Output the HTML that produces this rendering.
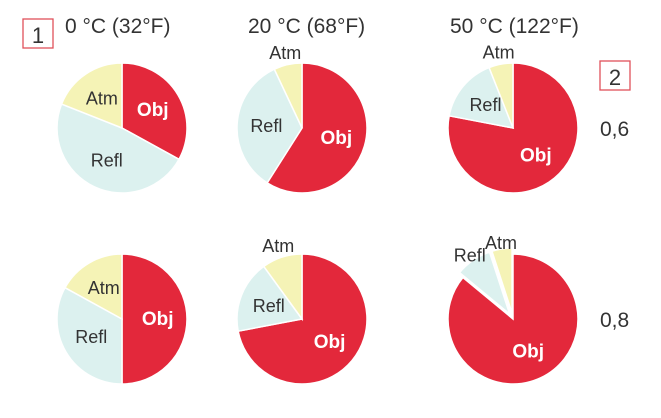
<!DOCTYPE html>
<html><head><meta charset="utf-8"><style>
body{margin:0;background:#fff;}
svg{display:block;font-family:"Liberation Sans",sans-serif;}
</style></head><body>
<svg id="chart" width="661" height="418" viewBox="0 0 661 418">
<rect x="23" y="19" width="30" height="29" fill="none" stroke="#e0505a" stroke-width="1.3"/>
<text x="38" y="43" font-size="22" fill="#333" text-anchor="middle">1</text>
<rect x="600" y="61" width="30" height="29" fill="none" stroke="#e0505a" stroke-width="1.3"/>
<text x="615" y="85" font-size="22" fill="#333" text-anchor="middle">2</text>
<g id="pies"></g>
</svg>
<script>
const temps = ["0 °C (32°F)", "20 °C (68°F)", "50 °C (122°F)"];
const emissivities = ["0,6", "0,8"];
const objShare = [33, 59, 78, 50, 72, 86];
const reflShare = [48, 34, 16, 33, 18, 9];
const atmShare = [19, 7, 6, 17, 10, 5];
const colX = [122, 302, 513];
const rowY = [128, 319];
const headerX = [65, 248, 450];
const colors = {obj:"#e3283b", refl:"#dcf1ef", atm:"#f5f3b6"};
const ns = "http://www.w3.org/2000/svg";
const g = document.getElementById("pies");
function mk(tag, attrs){const e=document.createElementNS(ns,tag);for(const k in attrs)e.setAttribute(k,attrs[k]);return e;}
function pt(cx,cy,r,a){const t=a*Math.PI/180;return [cx+r*Math.sin(t),cy-r*Math.cos(t)];}
function arc(cx,cy,r,a0,a1){const p0=pt(cx,cy,r,a0),p1=pt(cx,cy,r,a1);const large=(a1-a0)>180?1:0;return `M${cx},${cy}L${p0[0]},${p0[1]}A${r},${r} 0 ${large} 1 ${p1[0]},${p1[1]}Z`;}
temps.forEach((t,i)=>{
  const tx=mk("text",{x:headerX[i],y:33,"font-size":21,fill:"#333"});
  
  
  tx.textContent=t;g.appendChild(tx);
});
emissivities.forEach((e,j)=>{
  const tx=mk("text",{x:600,y:rowY[j]+8,"font-size":21,fill:"#333"});
  
  
  tx.textContent=e;g.appendChild(tx);
});
for(let k=0;k<6;k++){
  const cx=colX[k%3], cy=rowY[Math.floor(k/3)], r=65;
  const tot=objShare[k]+reflShare[k]+atmShare[k];
  const a1=objShare[k]/tot*360, a2=a1+reflShare[k]/tot*360;
  const explode = k===5 ? 6 : 0;
  const segs=[["obj",0,a1,"Obj"],["refl",a1,a2,"Refl"],["atm",a2,360,"Atm"]];
  segs.forEach(s=>{
    const mid=(s[1]+s[2])/2;
    const off=s[0]==="obj"?0:explode;
    const o=pt(0,0,off,mid);
    const p=mk("path",{d:arc(cx+o[0],cy+o[1],r,s[1],s[2]),fill:colors[s[0]],stroke:"#fff","stroke-width":1.5});
    
    
    g.appendChild(p);
  });
  segs.forEach(s=>{
    const mid=(s[1]+s[2])/2, span=s[2]-s[1];
    let rr = span<40 ? r+12 : r*0.55;
    const lp=pt(cx,cy,rr,mid);
    const isObj=s[0]==="obj";
    const tx=mk("text",{x:lp[0],y:lp[1]+6,"font-size":isObj?19:18,"font-weight":isObj?"bold":"normal",fill:isObj?"#fff":"#333","text-anchor":"middle"});
    
    
    tx.textContent=s[3];g.appendChild(tx);
  });
}
</script>
</body></html>
